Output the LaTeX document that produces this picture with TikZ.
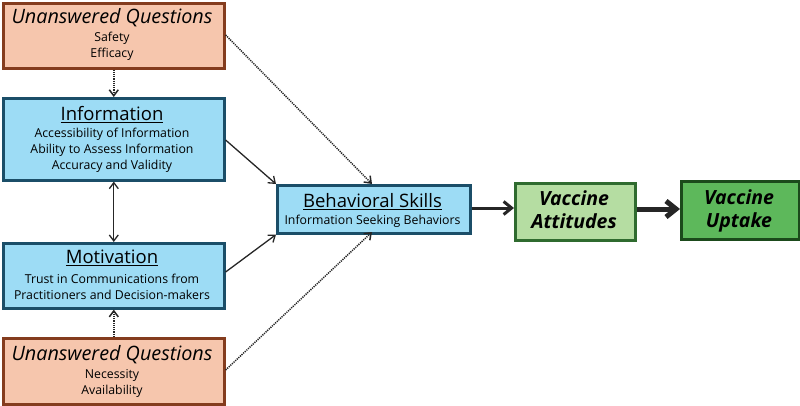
\documentclass[tikz,border=0pt]{standalone}
\usepackage{fontspec}
\setmainfont{Open Sans}
\usetikzlibrary{arrows.meta}
\definecolor{ofill}{HTML}{F6C6AD}
\definecolor{oline}{HTML}{843C1E}
\definecolor{bfill}{HTML}{9DDCF5}
\definecolor{bline}{HTML}{1B4E68}
\definecolor{gfill}{HTML}{B5DDA2}
\definecolor{gline}{HTML}{2F6B2F}
\definecolor{dgfill}{HTML}{5DB85B}
\definecolor{dgline}{HTML}{1B4A1B}
\tikzset{
  barb/.tip={Straight Barb[length=6pt,width=9pt]},
  box/.style={draw, line width=2.6pt, inner sep=0pt, align=center, anchor=north west},
  qbox/.style={box, fill=ofill, draw=oline},
  ibox/.style={box, fill=bfill, draw=bline},
  abox/.style={box, fill=gfill, draw=gline},
  ubox/.style={box, fill=dgfill, draw=dgline},
  ttl/.style={font=\fontsize{18.5}{20}\selectfont},
  ittl/.style={font=\fontsize{19.8}{20}\selectfont\itshape},
  sub/.style={font=\fontsize{12.3}{16}\selectfont},
  vac/.style={font=\fontsize{19.5}{23}\selectfont\bfseries\itshape, align=center},
  link/.style={line width=1.3pt, -barb, color=black!85},
  dlink/.style={line width=1.5pt, dash pattern=on 1.2pt off 1pt, -barb, color=black!85},
}
\begin{document}
\begin{tikzpicture}[x=1pt,y=-1pt]
\useasboundingbox (0,0) rectangle (800,405);
% boxes
\node[qbox, minimum width=221pt, minimum height=65pt] (q1) at (2,2) {};
\node[ibox, minimum width=221pt, minimum height=82pt] (inf) at (2,97) {};
\node[ibox, minimum width=221pt, minimum height=65pt] (mot) at (2,242) {};
\node[qbox, minimum width=221pt, minimum height=66pt] (q2) at (2,337) {};
\node[ibox, minimum width=193pt, minimum height=48pt] (bs) at (276,184) {};
\node[abox, minimum width=120pt, minimum height=57pt] (va) at (514,182) {};
\node[ubox, minimum width=118pt, minimum height=58pt] (vu) at (680,180) {};
% texts
\node[ittl] (t1) at (112,18) {Unanswered Questions};
\node[sub] (t1a) at (112,38) {Safety};
\node[sub] (t1b) at (112,54) {Efficacy};
\node[ttl] (t2) at (112,115) {\underline{Information}};
\node[sub, align=center] (t2a) at (112,150) {Accessibility of Information\\Ability to Assess Information\\Accuracy and Validity};
\node[ttl] (t3) at (112,258) {\underline{Motivation}};
\node[sub, align=center] (t3a) at (112,287) {Trust in Communications from\\Practitioners and Decision-makers};
\node[ittl] (t4) at (112,355) {Unanswered Questions};
\node[sub] (t4a) at (112,375) {Necessity};
\node[sub] (t4b) at (112,391) {Availability};
\node[ttl] (t5) at (372.5,202) {\underline{Behavioral Skills}};
\node[sub] (t5a) at (372.5,221) {Information Seeking Behaviors};
\node[vac] (t6) at (574,210) {Vaccine\\Attitudes};
\node[vac] (t7) at (739,211) {Vaccine\\Uptake};
% connectors
\draw[dlink] (q1.south) -- (inf.north);
\draw[dlink] (q2.north) -- (mot.south);
\draw[link, barb-barb] (inf.south) -- (mot.north);
\coordinate (bsa) at (372,184);
\coordinate (bsb) at (372,232);
\draw[link] (inf.east |- 0,140) -- (bs.north west);
\draw[link] (mot.east |- 0,272) -- (bs.south west);
\draw[dlink] (q1.east |- 0,35) -- (bsa);
\draw[dlink] (q2.east |- 0,370) -- (bsb);
\draw[line width=3pt, -{Straight Barb[length=8pt,width=13pt]}, color=black!85] (bs.east |- 0,208) -- (va.west |- 0,208);
\draw[line width=5pt, -{Straight Barb[length=10pt,width=16pt]}, color=black!85] (va.east |- 0,209) -- (vu.west |- 0,209);
\end{tikzpicture}
\end{document}
